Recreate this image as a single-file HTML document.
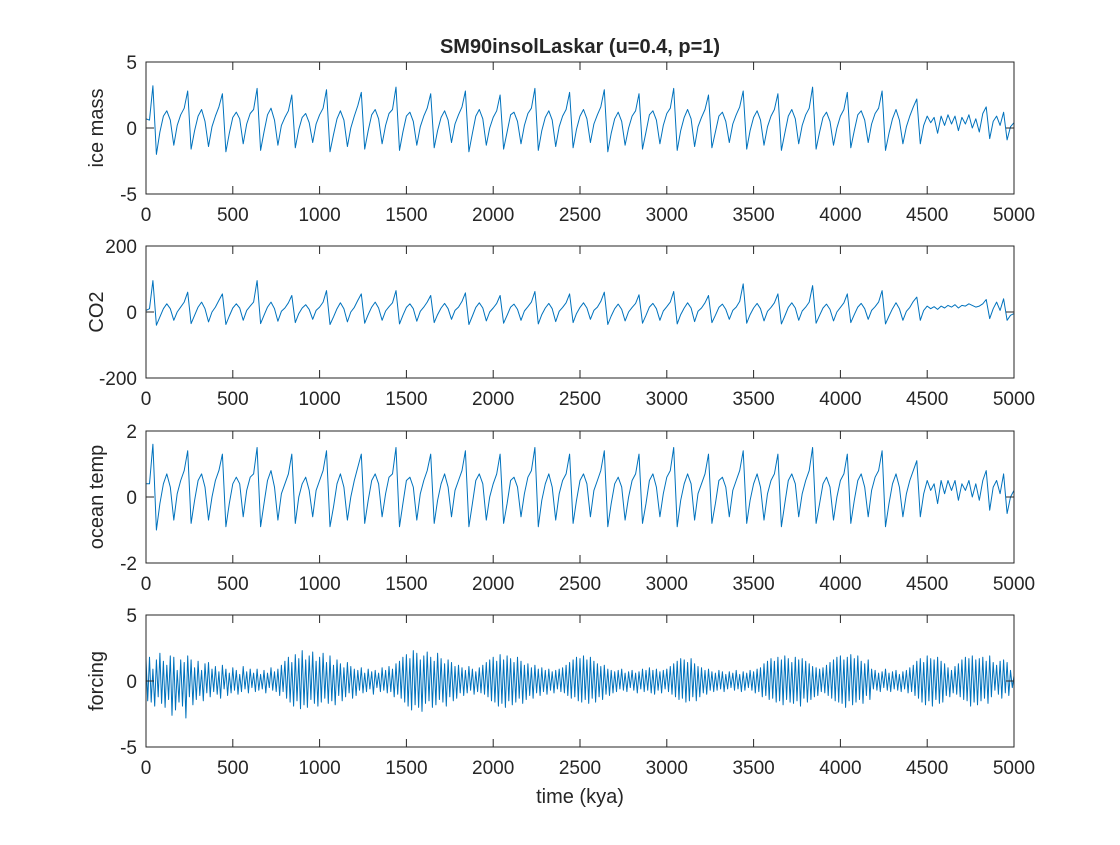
<!DOCTYPE html>
<html><head><meta charset="utf-8"><style>
body{margin:0;background:#fff;}
svg text{font-family:"Liberation Sans",sans-serif;fill:#262626;}
</style></head><body>
<svg id="fig" width="1120" height="840" viewBox="0 0 1120 840" xmlns="http://www.w3.org/2000/svg">
<rect width="1120" height="840" fill="#fff"/>
<text x="580" y="53" font-size="20" font-weight="bold" text-anchor="middle">SM90insolLaskar (u=0.4, p=1)</text>
<text x="580" y="803" font-size="20" text-anchor="middle">time (kya)</text>
</svg>
<script>
const xTicks=[0,500,1000,1500,2000,2500,3000,3500,4000,4500,5000];
const iceMass=[0.7,0.6,3.2,-2.0,-0.3,0.9,1.3,0.6,-1.3,0.2,1.0,1.5,
2.8,-1.6,-0.2,0.9,1.4,0.5,-1.4,0.1,0.9,1.6,
2.6,-1.8,-0.4,0.8,1.2,0.7,-1.2,0.3,1.1,1.4,
3.0,-1.7,-0.3,1.0,1.5,0.6,-1.3,0.2,0.8,1.3,
2.5,-1.5,-0.1,0.8,1.1,0.4,-1.1,0.3,1.0,1.5,
2.9,-1.8,-0.5,0.7,1.3,0.6,-1.4,0.0,0.9,1.7,
2.7,-1.6,-0.2,1.0,1.4,0.7,-1.2,0.2,1.1,1.4,
3.1,-1.7,-0.3,0.9,1.2,0.5,-1.3,0.1,0.9,1.5,
2.6,-1.5,-0.2,0.8,1.3,0.6,-1.1,0.3,1.0,1.6,
2.8,-1.8,-0.4,0.9,1.4,0.7,-1.3,0.0,0.8,1.3,
2.5,-1.6,-0.3,1.0,1.2,0.5,-1.2,0.2,1.1,1.5,
3.0,-1.7,-0.2,0.8,1.3,0.6,-1.4,0.1,0.9,1.4,
2.7,-1.5,-0.1,0.9,1.4,0.7,-1.1,0.3,1.0,1.6,
2.9,-1.8,-0.4,0.7,1.2,0.5,-1.3,0.0,0.9,1.3,
2.6,-1.6,-0.3,1.0,1.3,0.6,-1.2,0.2,1.1,1.5,
3.0,-1.7,-0.2,0.8,1.4,0.7,-1.4,0.1,0.8,1.4,
2.5,-1.5,-0.3,0.9,1.2,0.5,-1.1,0.3,1.0,1.6,
2.8,-1.6,-0.2,0.8,1.3,0.6,-1.3,0.1,0.9,1.4,
2.6,-1.7,-0.4,0.9,1.4,0.7,-1.2,0.2,1.0,1.5,
3.1,-1.6,-0.3,0.8,1.2,0.5,-1.3,0.0,0.9,1.4,
2.7,-1.5,-0.2,1.0,1.3,0.6,-1.1,0.3,1.1,1.5,
2.8,-1.7,-0.4,0.7,1.4,0.6,-1.2,0.1,0.9,1.6,
2.2,-1.2,0.2,0.9,0.4,0.8,-0.4,0.9,0.2,1.0,
0.3,0.9,-0.2,0.8,0.3,1.0,0.0,0.7,-0.3,1.1,
1.6,-0.8,0.5,0.9,0.2,1.2,-0.9,0.1,0.4];
const co2=[5,10,95,-40,-15,10,25,10,-25,0,15,30,
60,-35,-10,15,30,10,-30,0,15,35,
55,-38,-12,12,25,12,-25,5,18,30,
95,-35,-10,15,30,10,-28,2,12,28,
50,-32,-5,12,22,8,-22,5,15,30,
65,-38,-15,10,28,10,-30,0,14,35,
55,-34,-8,15,30,12,-25,3,16,28,
65,-36,-10,14,25,10,-28,2,15,30,
50,-32,-8,12,26,10,-22,5,15,32,
58,-38,-12,14,28,12,-27,0,12,26,
50,-34,-10,15,24,8,-25,3,16,30,
62,-36,-8,12,26,10,-29,2,14,28,
55,-32,-5,14,28,12,-22,5,15,32,
60,-38,-12,10,24,8,-27,0,14,26,
52,-34,-10,15,26,10,-25,3,16,30,
62,-36,-8,12,28,12,-29,2,12,28,
50,-32,-10,14,24,8,-22,5,15,32,
85,-34,-8,12,26,10,-27,2,14,28,
55,-36,-12,14,28,12,-25,3,15,30,
80,-34,-10,12,24,8,-27,0,14,28,
55,-32,-8,15,26,10,-22,5,16,30,
65,-36,-12,10,28,10,-25,2,14,32,
45,-25,5,18,10,16,8,18,12,20,
15,22,12,20,18,25,20,15,18,25,
38,-20,10,30,5,40,-25,-10,-5];
const oceanTemp=[0.4,0.4,1.6,-1.0,-0.2,0.4,0.7,0.3,-0.7,0.1,0.5,0.8,
1.4,-0.8,-0.1,0.5,0.7,0.3,-0.7,0.0,0.5,0.8,
1.3,-0.9,-0.2,0.4,0.6,0.4,-0.6,0.2,0.6,0.7,
1.5,-0.9,-0.2,0.5,0.8,0.3,-0.7,0.1,0.4,0.7,
1.3,-0.8,0.0,0.4,0.6,0.2,-0.6,0.2,0.5,0.8,
1.4,-0.9,-0.3,0.4,0.7,0.3,-0.7,0.0,0.5,0.9,
1.3,-0.8,-0.1,0.5,0.7,0.4,-0.6,0.1,0.6,0.7,
1.5,-0.9,-0.2,0.5,0.6,0.3,-0.7,0.1,0.5,0.8,
1.3,-0.8,-0.1,0.4,0.7,0.3,-0.6,0.2,0.5,0.8,
1.4,-0.9,-0.2,0.5,0.7,0.4,-0.7,0.0,0.4,0.7,
1.3,-0.8,-0.2,0.5,0.6,0.3,-0.6,0.1,0.6,0.8,
1.5,-0.9,-0.1,0.4,0.7,0.3,-0.7,0.1,0.5,0.7,
1.3,-0.8,-0.1,0.5,0.7,0.4,-0.6,0.2,0.5,0.8,
1.4,-0.9,-0.2,0.4,0.6,0.3,-0.7,0.0,0.5,0.7,
1.3,-0.8,-0.2,0.5,0.7,0.3,-0.6,0.1,0.6,0.8,
1.5,-0.9,-0.1,0.4,0.7,0.4,-0.7,0.1,0.4,0.7,
1.3,-0.8,-0.2,0.5,0.6,0.3,-0.6,0.2,0.5,0.8,
1.4,-0.8,-0.1,0.4,0.7,0.3,-0.7,0.1,0.5,0.7,
1.3,-0.9,-0.2,0.5,0.7,0.4,-0.6,0.1,0.5,0.8,
1.5,-0.8,-0.2,0.4,0.6,0.3,-0.7,0.0,0.5,0.7,
1.3,-0.8,-0.1,0.5,0.7,0.3,-0.6,0.2,0.6,0.8,
1.4,-0.9,-0.2,0.4,0.7,0.3,-0.6,0.1,0.5,0.8,
1.1,-0.6,0.1,0.5,0.2,0.4,-0.2,0.5,0.1,0.5,
0.2,0.5,-0.1,0.4,0.2,0.5,0.0,0.4,-0.1,0.5,
0.8,-0.4,0.3,0.5,0.1,0.7,-0.5,0.0,0.2];
const forcing=[1.7,-1.5,1.8,-1.6,0.9,-1.9,1.6,-1.2,2.1,-1.7,1.5,-2.0,1.2,-1.4,1.9,-2.6,1.8,-2.2,0.8,-1.6,
1.6,-1.9,1.4,-2.8,1.9,-1.2,1.6,-1.8,1.0,-1.4,1.5,-1.1,0.8,-1.5,1.3,-0.9,1.4,-1.2,0.9,-0.8,
1.1,-1.0,0.7,-1.3,1.2,-0.6,0.9,-1.1,0.6,-0.9,1.0,-0.7,0.8,-1.0,0.5,-0.8,1.1,-0.6,0.7,-0.9,
0.9,-0.5,0.6,-0.8,0.9,-0.7,0.5,-0.6,0.8,-0.9,0.6,-0.5,1.0,-0.7,0.7,-0.8,0.9,-1.1,1.2,-0.8,
1.5,-1.3,1.8,-1.6,1.4,-1.9,2.0,-1.5,1.7,-2.1,2.3,-1.8,1.6,-2.0,1.9,-1.4,2.2,-1.7,1.5,-1.9,
1.8,-1.6,2.1,-1.3,1.4,-1.7,1.9,-1.5,1.2,-1.8,1.6,-1.1,1.3,-1.5,1.0,-1.2,1.4,-0.9,1.1,-1.3,
0.9,-1.1,0.8,-0.7,1.0,-0.9,0.6,-0.8,0.9,-0.6,0.7,-1.0,0.8,-0.5,0.6,-0.8,1.0,-0.7,0.8,-0.9,
1.1,-0.8,0.9,-1.2,1.3,-1.0,1.5,-1.3,1.8,-1.6,2.0,-1.9,1.7,-2.2,2.3,-1.8,2.1,-2.0,1.6,-2.3,
1.9,-1.7,2.2,-1.5,1.8,-2.0,1.5,-1.8,2.1,-1.4,1.7,-1.6,1.3,-1.9,1.6,-1.2,1.4,-1.5,1.1,-1.3,
1.2,-0.9,1.0,-1.1,0.8,-0.9,1.1,-0.7,0.9,-1.0,0.7,-0.8,1.0,-0.9,1.2,-1.0,1.4,-1.2,1.6,-1.5,
1.8,-1.6,1.5,-1.9,2.0,-1.7,1.6,-2.0,1.9,-1.5,1.7,-1.8,1.4,-1.6,1.8,-1.3,1.5,-1.7,1.2,-1.4,
1.3,-1.1,1.0,-1.3,1.2,-0.9,0.9,-1.1,1.0,-0.8,0.8,-1.0,0.9,-0.7,0.7,-0.9,0.8,-0.6,0.9,-0.8,
1.0,-0.9,1.2,-1.1,1.4,-1.3,1.6,-1.2,1.8,-1.5,1.7,-1.6,1.9,-1.4,1.6,-1.7,1.8,-1.3,1.5,-1.6,
1.3,-1.2,1.1,-1.4,1.2,-1.0,0.9,-1.1,0.8,-0.9,0.7,-0.8,0.8,-0.6,0.9,-0.7,0.6,-0.8,0.7,-0.5,
0.8,-0.7,0.6,-0.9,0.7,-0.6,0.9,-0.8,0.8,-0.7,1.0,-0.9,0.8,-1.0,0.9,-0.7,0.7,-0.9,0.8,-0.6,
0.9,-0.8,1.1,-1.0,1.3,-1.2,1.5,-1.4,1.7,-1.3,1.6,-1.6,1.4,-1.5,1.7,-1.2,1.3,-1.5,1.1,-1.2,
1.0,-0.9,0.8,-1.0,0.9,-0.7,0.7,-0.8,0.6,-0.7,0.8,-0.6,0.7,-0.8,0.5,-0.6,0.7,-0.5,0.6,-0.7,
0.8,-0.6,0.5,-0.8,0.7,-0.7,0.6,-0.5,0.8,-0.7,0.7,-0.9,0.9,-0.8,1.0,-1.2,1.3,-1.1,1.5,-1.4,
1.7,-1.3,1.5,-1.6,1.8,-1.5,1.6,-1.8,1.9,-1.4,1.7,-1.6,1.4,-1.7,1.8,-1.5,1.6,-1.9,1.7,-1.3,
1.5,-1.6,1.3,-1.4,1.1,-1.2,1.0,-1.1,0.9,-0.8,1.0,-0.9,1.2,-1.1,1.4,-1.3,1.6,-1.5,1.8,-1.6,
1.9,-1.7,1.6,-2.0,1.8,-1.5,2.0,-1.8,1.7,-1.6,1.9,-1.4,1.5,-1.7,1.3,-1.1,1.6,-1.4,0.9,-0.6,
0.8,-0.7,0.6,-0.8,0.7,-0.5,0.9,-0.7,0.6,-0.8,0.7,-0.6,0.8,-0.7,0.5,-0.8,0.7,-0.6,0.8,-0.9,
1.0,-0.8,1.2,-1.1,1.5,-1.3,1.7,-1.6,1.4,-1.8,1.9,-1.5,1.7,-1.9,1.6,-1.4,1.8,-1.7,1.5,-1.6,
1.3,-1.1,1.0,-1.2,0.8,-0.9,1.1,-1.0,1.3,-1.2,1.6,-1.4,1.8,-1.5,1.7,-1.9,1.9,-1.6,1.6,-1.8,
1.7,-1.5,1.8,-1.3,1.5,-1.7,1.9,-1.2,1.4,-0.7,1.2,-1.0,1.5,-1.3,1.6,-0.9,1.4,-1.1,0.8,-0.5,0.4];
const panels=[
 {name:'ice-mass',label:'ice mass',data:iceMass,dt:20,ymin:-5,ymax:5,yt:[-5,0,5],top:62},
 {name:'co2',label:'CO2',data:co2,dt:20,ymin:-200,ymax:200,yt:[-200,0,200],top:246},
 {name:'ocean-temp',label:'ocean temp',data:oceanTemp,dt:20,ymin:-2,ymax:2,yt:[-2,0,2],top:431},
 {name:'forcing',label:'forcing',data:forcing,dt:10,ymin:-5,ymax:5,yt:[-5,0,5],top:615}];
const NS='http://www.w3.org/2000/svg';
const svg=document.getElementById('fig');
const L=146,R=1014,H=132;
function mk(tag,attrs,parent){const e=document.createElementNS(NS,tag);for(const k in attrs)e.setAttribute(k,attrs[k]);(parent||svg).appendChild(e);return e;}
panels.forEach(p=>{
 const g=mk('g',{});
 
 
 const xs=t=>L+(t/5000)*(R-L);
 const ys=v=>p.top+H-(v-p.ymin)/(p.ymax-p.ymin)*H;
 mk('rect',{x:L,y:p.top,width:R-L,height:H,fill:'#fff',stroke:'none'},g);
 const pts=p.data.map((v,i)=>xs(Math.min(i*p.dt,5000)).toFixed(1)+','+ys(v).toFixed(1)).join(' ');
 const line=mk('polyline',{points:pts,fill:'none',stroke:'#0072bd','stroke-width':1,'stroke-linejoin':'round'},g);
 
 
 mk('rect',{x:L,y:p.top,width:R-L,height:H,fill:'none',stroke:'#262626','stroke-width':1},g);
 xTicks.forEach(t=>{
  const x=xs(t);
  mk('line',{x1:x,x2:x,y1:p.top+H,y2:p.top+H-8,stroke:'#262626'},g);
  mk('line',{x1:x,x2:x,y1:p.top,y2:p.top+8,stroke:'#262626'},g);
  const tx=mk('text',{x:x,y:p.top+H+27,'font-size':19,'text-anchor':'middle'},g);
  tx.textContent=t;
  
  
 });
 p.yt.forEach(v=>{
  const y=ys(v);
  mk('line',{x1:L,x2:L+8,y1:y,y2:y,stroke:'#262626'},g);
  mk('line',{x1:R,x2:R-8,y1:y,y2:y,stroke:'#262626'},g);
  const ty=mk('text',{x:L-9,y:y+7,'font-size':19,'text-anchor':'end'},g);
  ty.textContent=v;
  
  
 });
 const lab=mk('text',{x:0,y:0,'font-size':20,'text-anchor':'middle',transform:'translate(103,'+(p.top+H/2)+') rotate(-90)'},g);
 lab.textContent=p.label;
 
 
});
</script>
</body></html>
